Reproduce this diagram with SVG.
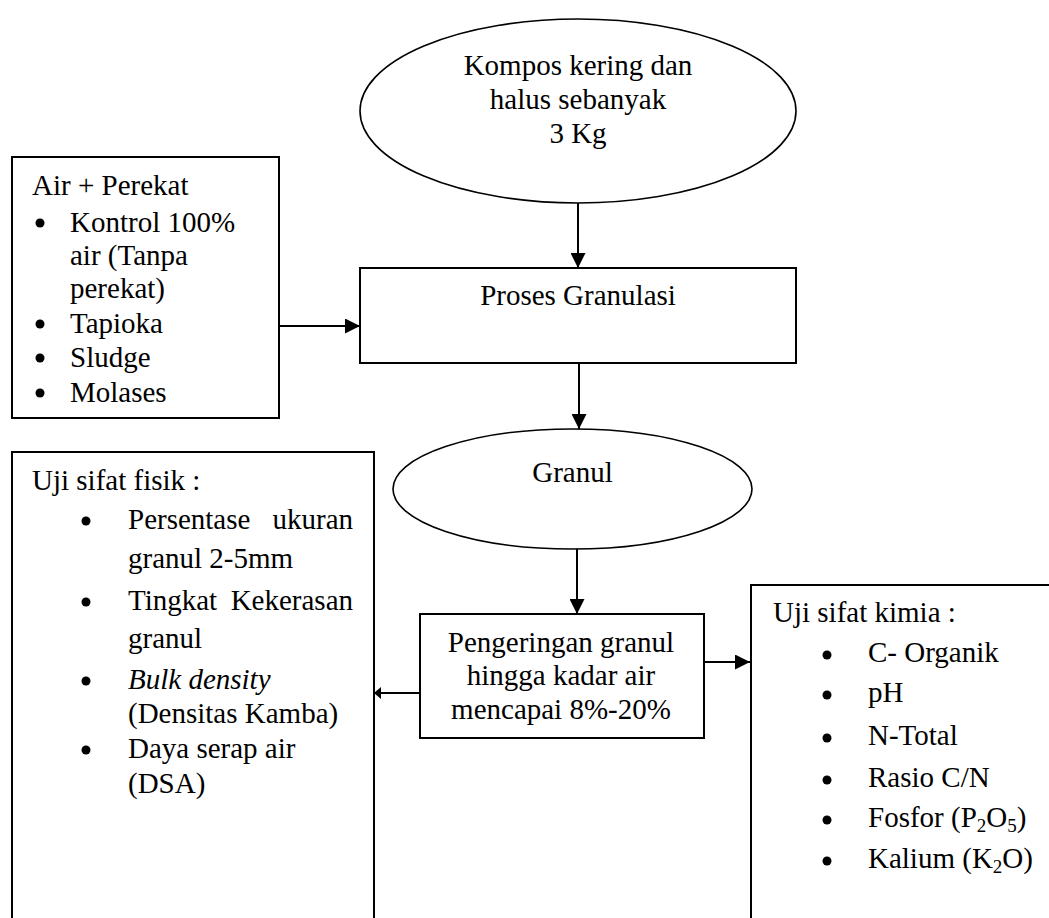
<svg xmlns="http://www.w3.org/2000/svg" width="1049" height="918" viewBox="0 0 1049 918">
<style>
text { font-family: "Liberation Serif", "Times New Roman", serif; font-size: 29px; fill: #000; }
.c { text-anchor: middle; }
.e { text-anchor: end; }
.shape { fill: #fff; stroke: #000; stroke-width: 2; }
.ell { fill: #fff; stroke: #000; stroke-width: 1.6; }
.line { fill: none; stroke: #000; stroke-width: 2; }
.sub { font-size: 19px; }
</style>
<defs>
<marker id="arr" viewBox="0 0 15 15" refX="15" refY="7.5" markerWidth="15" markerHeight="15" markerUnits="userSpaceOnUse" orient="auto">
<path d="M0,0 L15,7.5 L0,15 Z" fill="#000"/>
</marker>
<marker id="arrs" viewBox="0 0 7 12" refX="7" refY="6" markerWidth="7" markerHeight="12" markerUnits="userSpaceOnUse" orient="auto">
<path d="M0,0 L7,6 L0,12 Z" fill="#000"/>
</marker>
</defs>

<g id="connectors">
<line class="line" x1="578" y1="203" x2="578" y2="268" marker-end="url(#arr)"/>
<line class="line" x1="279" y1="326" x2="360" y2="326" marker-end="url(#arr)"/>
<line class="line" x1="579" y1="363" x2="579" y2="429" marker-end="url(#arr)"/>
<line class="line" x1="577" y1="548" x2="577" y2="614" marker-end="url(#arr)"/>
<line class="line" x1="420" y1="693" x2="374" y2="693" marker-end="url(#arrs)"/>
<line class="line" x1="693" y1="662" x2="750" y2="662" marker-end="url(#arr)"/>
</g>

<g id="kompos">
<ellipse class="ell" cx="578" cy="111" rx="218" ry="92"/>
<text class="c" x="578" y="75">Kompos kering dan</text>
<text class="c" x="578" y="109">halus sebanyak</text>
<text class="c" x="578" y="143">3 Kg</text>
</g>

<g id="air-perekat">
<rect class="shape" x="12" y="157" width="267" height="261"/>
<text x="32" y="195">Air + Perekat</text>
<circle cx="40" cy="223" r="4.5"/>
<text x="70" y="232">Kontrol 100%</text>
<text x="70" y="265">air (Tanpa</text>
<text x="70" y="298">perekat)</text>
<circle cx="40" cy="324" r="4.5"/>
<text x="70" y="333">Tapioka</text>
<circle cx="40" cy="358" r="4.5"/>
<text x="70" y="367">Sludge</text>
<circle cx="40" cy="393" r="4.5"/>
<text x="70" y="402">Molases</text>
</g>

<g id="proses">
<rect class="shape" x="360" y="268" width="436" height="95"/>
<text class="c" x="578" y="305">Proses Granulasi</text>
</g>

<g id="granul">
<ellipse class="ell" cx="572.5" cy="489" rx="179.5" ry="60"/>
<text class="c" x="572.5" y="482">Granul</text>
</g>

<g id="fisik">
<path class="shape" d="M12,918 L12,452 L374,452 L374,918"/>
<text x="32" y="490">Uji sifat fisik :</text>
<circle cx="86" cy="521" r="4.5"/>
<text x="128" y="529">Persentase</text>
<text class="e" x="353" y="529">ukuran</text>
<text x="128" y="568">granul 2-5mm</text>
<circle cx="86" cy="602" r="4.5"/>
<text x="128" y="610">Tingkat</text>
<text class="e" x="353" y="610">Kekerasan</text>
<text x="128" y="648">granul</text>
<circle cx="86" cy="681" r="4.5"/>
<text x="128" y="689" font-style="italic">Bulk density</text>
<text x="128" y="723">(Densitas Kamba)</text>
<circle cx="86" cy="750" r="4.5"/>
<text x="128" y="758">Daya serap air</text>
<text x="128" y="793">(DSA)</text>
</g>

<g id="pengeringan">
<rect class="shape" x="420" y="614" width="284" height="124"/>
<text class="c" x="561" y="652">Pengeringan granul</text>
<text class="c" x="561" y="685">hingga kadar air</text>
<text class="c" x="561" y="719">mencapai 8%-20%</text>
</g>

<g id="kimia">
<path class="shape" d="M751,918 L751,585 L1049,585"/>
<text x="773" y="622">Uji sifat kimia :</text>
<circle cx="827" cy="655" r="4.5"/>
<text x="868" y="662">C- Organik</text>
<circle cx="827" cy="695" r="4.5"/>
<text x="868" y="702">pH</text>
<circle cx="827" cy="738" r="4.5"/>
<text x="868" y="745">N-Total</text>
<circle cx="827" cy="780" r="4.5"/>
<text x="868" y="787">Rasio C/N</text>
<circle cx="827" cy="820" r="4.5"/>
<text x="868" y="827">Fosfor (P<tspan class="sub" dy="5">2</tspan><tspan dy="-5">O</tspan><tspan class="sub" dy="5">5</tspan><tspan dy="-5">)</tspan></text>
<circle cx="827" cy="861" r="4.5"/>
<text x="868" y="868">Kalium (K<tspan class="sub" dy="5">2</tspan><tspan dy="-5">O)</tspan></text>
</g>
</svg>
